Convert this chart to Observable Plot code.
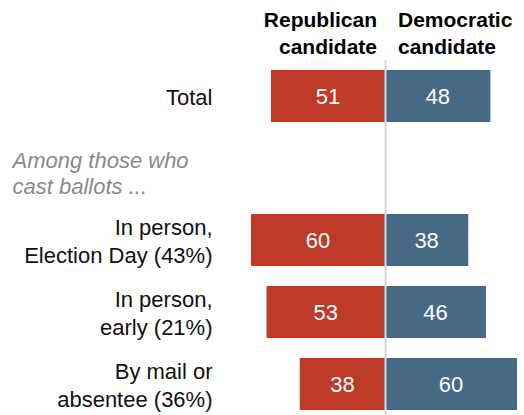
<!DOCTYPE html>
<html>
<head>
<meta charset="utf-8">
<script src="https://cdn.jsdelivr.net/npm/d3@7"></script>
<script src="https://cdn.jsdelivr.net/npm/@observablehq/plot@0.6"></script>
<style>
  html, body { margin: 0; padding: 0; background: #fff; }
  #wrap { position: relative; width: 524px; font-family: "Liberation Sans", Arial, sans-serif; }
  #header { position: relative; height: 60px; }
  .hd { position: absolute; top: 7px; font-weight: bold; font-size: 21px; line-height: 26.7px; color: #000; white-space: nowrap; }
  #hdR { right: 147px; text-align: right; }
  #hdD { left: 398px; text-align: left; }
  svg { display: block; }
</style>
</head>
<body>
<div id="wrap">
  <div id="header">
    <div class="hd" id="hdR"></div>
    <div class="hd" id="hdD"></div>
  </div>
  <div id="chart"></div>
</div>
<script>
// Data
const rows = [
  "Total",
  "Among those who\ncast ballots ...",
  "In person,\nElection Day (43%)",
  "In person,\nearly (21%)",
  "By mail or\nabsentee (36%)"
];
const groupRow = rows[1];
const republican = [51, null, 60, 53, 38];
const democratic = [48, null, 38, 46, 60];
const series = ["Republican candidate", "Democratic candidate"];
const seriesHeader = [["Republican", "candidate"], ["Democratic", "candidate"]];
const colors = ["#be3a29", "#466984"];

document.getElementById("hdR").innerHTML = seriesHeader[0].join("<br>");
document.getElementById("hdD").innerHTML = seriesHeader[1].join("<br>");

const data = rows.flatMap((r, i) => {
  const out = [];
  if (republican[i] != null) out.push({row: r, party: series[0], value: republican[i], x1: -republican[i], x2: 0});
  if (democratic[i] != null) out.push({row: r, party: series[1], value: democratic[i], x1: 0, x2: democratic[i]});
  return out;
});

const chart = Plot.plot({
  width: 524,
  height: 355,
  marginLeft: 251,
  marginRight: 7,
  marginTop: 0,
  marginBottom: 0,
  style: {fontFamily: "'Liberation Sans', Arial, sans-serif", background: "#fff"},
  x: {domain: [-60, 60], axis: null},
  y: {domain: rows, range: [0, 360], paddingInner: 0.278, paddingOuter: 0.139, axis: null},
  color: {domain: series, range: colors},
  marks: [
    Plot.barX(data, {x1: "x1", x2: "x2", y: "row", fill: "party"}),
    Plot.ruleX([0], {stroke: "#d9d9d9", strokeWidth: 2, dx: 1}),
    Plot.text(data, {x: d => (d.x1 + d.x2) / 2, y: "row", text: d => String(d.value), fill: "white", fontSize: 22}),
    Plot.text(rows.filter(r => r !== groupRow), {y: d => d, text: d => d, frameAnchor: "left", dx: -39, textAnchor: "end", fontSize: 22, lineHeight: 1.27, fill: "#111"}),
    Plot.text([groupRow], {y: d => d, text: d => d, frameAnchor: "left", dx: -239, textAnchor: "start", fontSize: 22, fontStyle: "italic", fill: "#8a8a8a", lineHeight: 1.21, dy: 4})
  ]
});
document.getElementById("chart").appendChild(chart);
</script>
</body>
</html>
